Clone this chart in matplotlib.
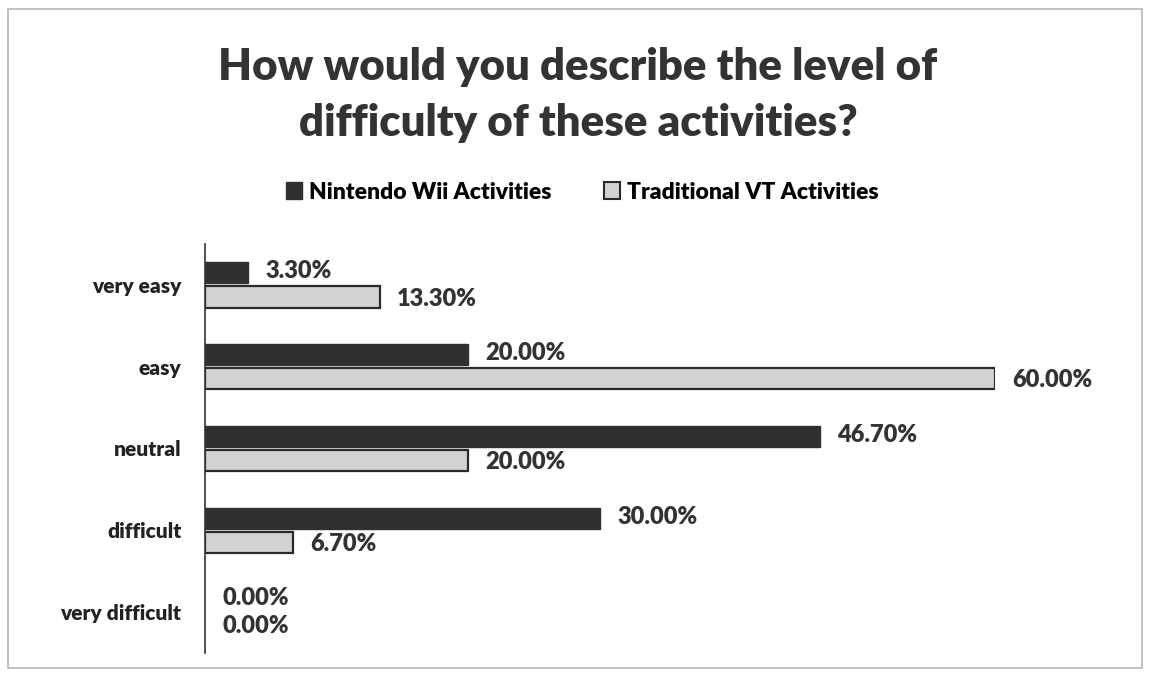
import matplotlib
matplotlib.use("Agg")
import matplotlib.pyplot as plt
import numpy as np
from matplotlib.patches import Rectangle, Patch

categories = ["very easy", "easy", "neutral", "difficult", "very difficult"]
wii_values = [3.30, 20.00, 46.70, 30.00, 0.00]
vt_values = [13.30, 60.00, 20.00, 6.70, 0.00]
series_names = ["Nintendo Wii Activities", "Traditional VT Activities"]

W, H = 1152, 677
fig = plt.figure(figsize=(W / 100, H / 100), dpi=100)
plt.rcParams["font.family"] = ["Lato", "DejaVu Sans"]
WT = "heavy"

# outer chart border
fig.patches.append(Rectangle((8 / W, 9 / H), 1134 / W, 659 / H, transform=fig.transFigure,
                             fill=False, edgecolor="#b5b5b5", linewidth=1.2))

ax = fig.add_axes([205 / W, (H - 653) / H, (995 - 205) / W, (653 - 244) / H])

y = np.arange(len(categories))
bh = 0.26
gap = 0.035
dark = "#303030"
light = "#d2d2d2"

b1 = ax.barh(y - (bh + gap) / 2, wii_values, height=bh, color=dark, edgecolor=dark, linewidth=1)
b2 = ax.barh(y + (bh + gap) / 2, vt_values, height=bh, color=light, edgecolor="#2a2a2a", linewidth=1.6)
for p in list(b1) + list(b2):
    if p.get_width() == 0:
        p.set_linewidth(0)

for i in range(len(categories)):
    ax.text(wii_values[i] + 1.3, y[i] - (bh + gap) / 2 - 0.02, f"{wii_values[i]:.2f}%",
            va="center", ha="left", fontsize=17, fontweight=WT, color="#333333")
    ax.text(vt_values[i] + 1.3, y[i] + (bh + gap) / 2 + 0.02, f"{vt_values[i]:.2f}%",
            va="center", ha="left", fontsize=17, fontweight=WT, color="#333333")

ax.set_xlim(0, 60)
ax.set_ylim(len(categories) - 0.5, -0.5)
ax.set_yticks(y)
ax.set_yticklabels(categories, fontsize=15, fontweight=WT, color="#222222")
ax.tick_params(axis="y", length=0, pad=17)
ax.set_xticks([])
for s in ["top", "right", "bottom"]:
    ax.spines[s].set_visible(False)
ax.spines["left"].set_color("#333333")
ax.spines["left"].set_linewidth(1.2)

fig.text(578 / W, 1 - 95 / H, "How would you describe the level of\ndifficulty of these activities?",
         ha="center", va="center", fontsize=31.5, fontweight=WT, color="#333333",
         linespacing=1.5)

handles = [Patch(facecolor=dark, edgecolor=dark),
           Patch(facecolor=light, edgecolor="#2a2a2a", linewidth=1.5)]
fig.legend(handles, series_names, loc="center", bbox_to_anchor=(582 / W, 1 - 192 / H),
           ncol=2, frameon=False, prop={"size": 16.5, "weight": WT},
           handlelength=0.7, handleheight=0.7, handletextpad=0.3, columnspacing=2.3)

fig.savefig("out.png", dpi=100, facecolor="white")
